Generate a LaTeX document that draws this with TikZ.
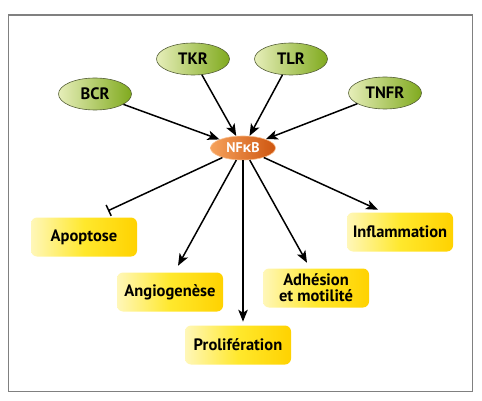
\documentclass[tikz,border=0pt]{standalone}
\usepackage{fontspec}
\setmainfont{PT Sans}
\newfontfamily\grkfont{Open Sans}
\usetikzlibrary{shapes.geometric, arrows.meta}
\definecolor{boxL}{RGB}{255,247,185}
\definecolor{boxM}{RGB}{255,232,45}
\definecolor{boxR}{RGB}{255,210,0}
\definecolor{recL}{RGB}{230,238,185}
\definecolor{recR}{RGB}{128,170,30}
\definecolor{recD}{RGB}{85,95,55}
\definecolor{nfL}{RGB}{246,162,92}
\definecolor{nfR}{RGB}{206,86,16}
\begin{document}
\begin{tikzpicture}[x=1pt, y=-1pt, line width=1.5pt, >={Stealth[length=12pt, width=9.5pt, inset=3pt]}]
			\tikzstyle{recep}  = [ellipse, minimum width=73pt, minimum height=32pt, inner sep=0pt, draw=recD, line width=0.6pt, left color=recL, right color=recR, font=\fontsize{16.5}{16.5}\selectfont\bfseries]
			\tikzstyle{hub}    = [ellipse, minimum width=65pt, minimum height=24pt, inner sep=0pt, draw=nfL!70!white, line width=0.6pt, left color=nfL, right color=nfR, text=white, font=\fontsize{14}{14}\selectfont\bfseries]
			\tikzstyle{effect} = [rectangle, rounded corners=6pt, minimum width=106pt, minimum height=39pt, inner sep=2pt, align=center, left color=boxL, right color=boxR, middle color=boxM, font=\fontsize{16.5}{16}\selectfont\bfseries]

			\useasboundingbox (0,0) rectangle (482,401);
			\draw[gray, line width=1.5pt] (8.5,15) rectangle (472.5,391.5);

			\node[hub] (nfkb) at (243, 148) {NF{\grkfont κ}B};

			\foreach \name/\x/\y in {BCR/95/94, TKR/193/59, TLR/291/59, TNFR/385/93}
				\node[recep] (\name) at (\x, \y) {\name};

			\foreach \name/\x/\y/\txt in {apop/84/237/Apoptose, angio/170/292/Angiogenèse, prolif/238/345/Prolifération, adhes/316/288/{Adhésion\\et motilité}, inflam/400/232/Inflammation}
				\node[effect] (\name) at (\x, \y) {\txt};

			\foreach \from in {BCR, TKR, TLR, TNFR}
				\draw[->] (\from) -- (nfkb);

			\draw[-{Bar[width=12pt]}] (nfkb) -- ([xshift=24pt, yshift=6pt]apop.north);
			\draw[->] (nfkb) -- ([xshift=8pt, yshift=6pt]angio.north);
			\draw[->] (nfkb) -- ([xshift=5pt, yshift=3pt]prolif.north);
			\draw[->] (nfkb) -- ([xshift=-9pt, yshift=5pt]adhes.north);
			\draw[->] (nfkb) -- ([xshift=-22pt, yshift=2pt]inflam.north);

		\end{tikzpicture}
\end{document}
